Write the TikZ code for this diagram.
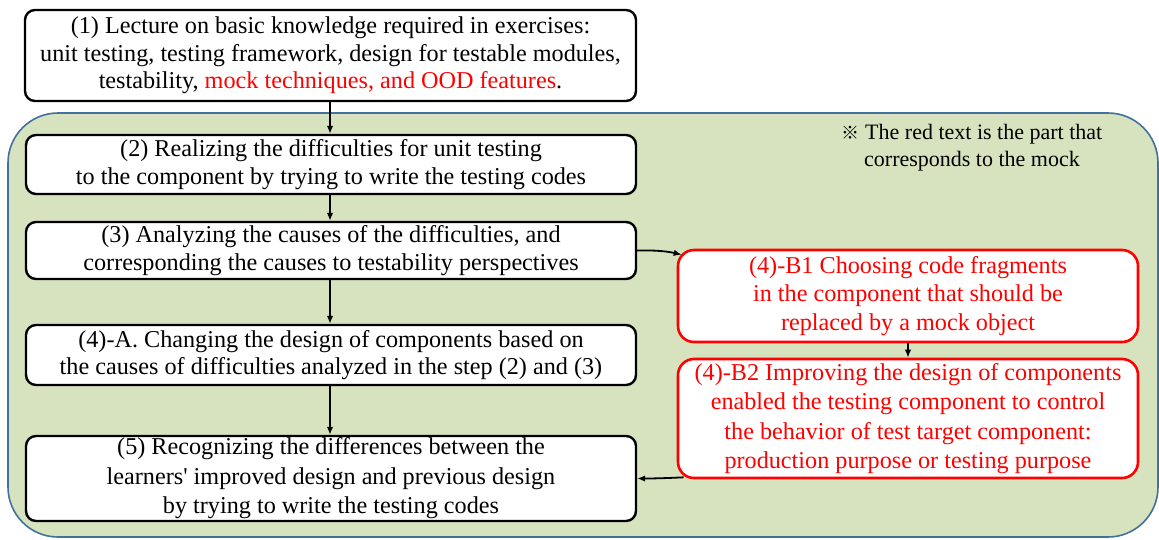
\documentclass[tikz,border=0pt]{standalone}
\usepackage{fontspec}
\setmainfont{Liberation Serif}[Ligatures=TeXOff]
\newfontfamily\cjk{Noto Sans CJK JP}
\usetikzlibrary{arrows.meta,calc}
\definecolor{bggreen}{RGB}{215,227,190}
\definecolor{bgborder}{RGB}{65,113,156}
\definecolor{myred}{RGB}{255,0,0}
\tikzset{
  stepbox/.style={draw=black, line width=2.4pt, fill=white, rounded corners=10pt,
    align=center, inner sep=0pt, font=\fontsize{24.2}{27.5}\selectfont},
  redbox/.style={draw=myred, line width=2.6pt, fill=white, rounded corners=16pt,
    align=center, inner sep=0pt, text=myred, font=\fontsize{24.2}{28.5}\selectfont},
  arr/.style={draw=black, line width=1.8pt, -{Latex[length=8pt,width=6.5pt]}},
  notetext/.style={align=center, inner sep=0pt, font=\fontsize{22}{27}\selectfont}
}
\begin{document}
\begin{tikzpicture}[x=1pt,y=-1pt]
\useasboundingbox (0,0) rectangle (1159,539);
\fill[white] (0,0) rectangle (1159,539);
% green background region
\draw[fill=bggreen, draw=bgborder, line width=1.6pt, rounded corners=50pt] (8,113) rectangle (1158,537);

\node[stepbox, minimum width=611pt, minimum height=91pt] (s1) at (330.5,55.5)
  {(1) Lecture on basic knowledge required in exercises:\\
   unit testing, testing framework, design for testable modules,\\
   testability, \textcolor{myred}{mock techniques, and OOD features}.};

\node[stepbox, minimum width=610pt, minimum height=59pt] (s2) at (331,164.5)
  {(2) Realizing the difficulties for unit testing\\
   to the component by trying to write the testing codes};

\node[stepbox, minimum width=610pt, minimum height=57pt] (s3) at (331,250.5)
  {(3) Analyzing the causes of the difficulties, and\\
   corresponding the causes to testability perspectives};

\node[stepbox, minimum width=610pt, minimum height=60pt] (s4a) at (331,355)
  {(4)-A. Changing the design of components based on\\
   the causes of difficulties analyzed in the step (2) and (3)};

\node[stepbox, font=\fontsize{24.2}{29.5}\selectfont, minimum width=610pt, minimum height=85pt] (s5) at (331,478.5)
  {(5) Recognizing the differences between the\\
   learners' improved design and previous design\\
   by trying to write the testing codes};

\node[redbox, minimum width=460pt, minimum height=92pt] (b1) at (908,296)
  {(4)-B1 Choosing code fragments\\
   in the component that should be\\
   replaced by a mock object};

\node[redbox, font=\fontsize{24.2}{29.2}\selectfont, minimum width=460pt, minimum height=119pt] (b2) at (908,418.5)
  {(4)-B2 Improving the design of components\\
   enabled the testing component to control\\
   the behavior of test target component:\\
   production purpose or testing purpose};

\node[notetext] (note) at (972,147.5)
  {{\cjk\fontsize{18}{27}\selectfont ※} The red text is the part that\\
   corresponds to the mock};

% connectors
\draw[arr] (s1.south -| 330,0) -- (s2.north -| 330,0);
\draw[arr] (s2.south -| 330,0) -- (s3.north -| 330,0);
\draw[arr] (s3.south -| 330,0) -- (s4a.north -| 330,0);
\draw[arr] (s4a.south -| 330,0) -- (s5.north -| 330,0);
\draw[arr] (b1.south) -- (b2.north);

\coordinate (b1corner) at ($(b1.north west)+(5,6)$);
\draw[arr] (s3.east) .. controls (660,250) and (670,252) .. (b1corner);

\coordinate (b2corner) at ($(b2.south west)+(7,-2)$);
\draw[arr] (b2corner) .. controls (670,478) and (655,478.5) .. (s5.east);
\end{tikzpicture}
\end{document}
